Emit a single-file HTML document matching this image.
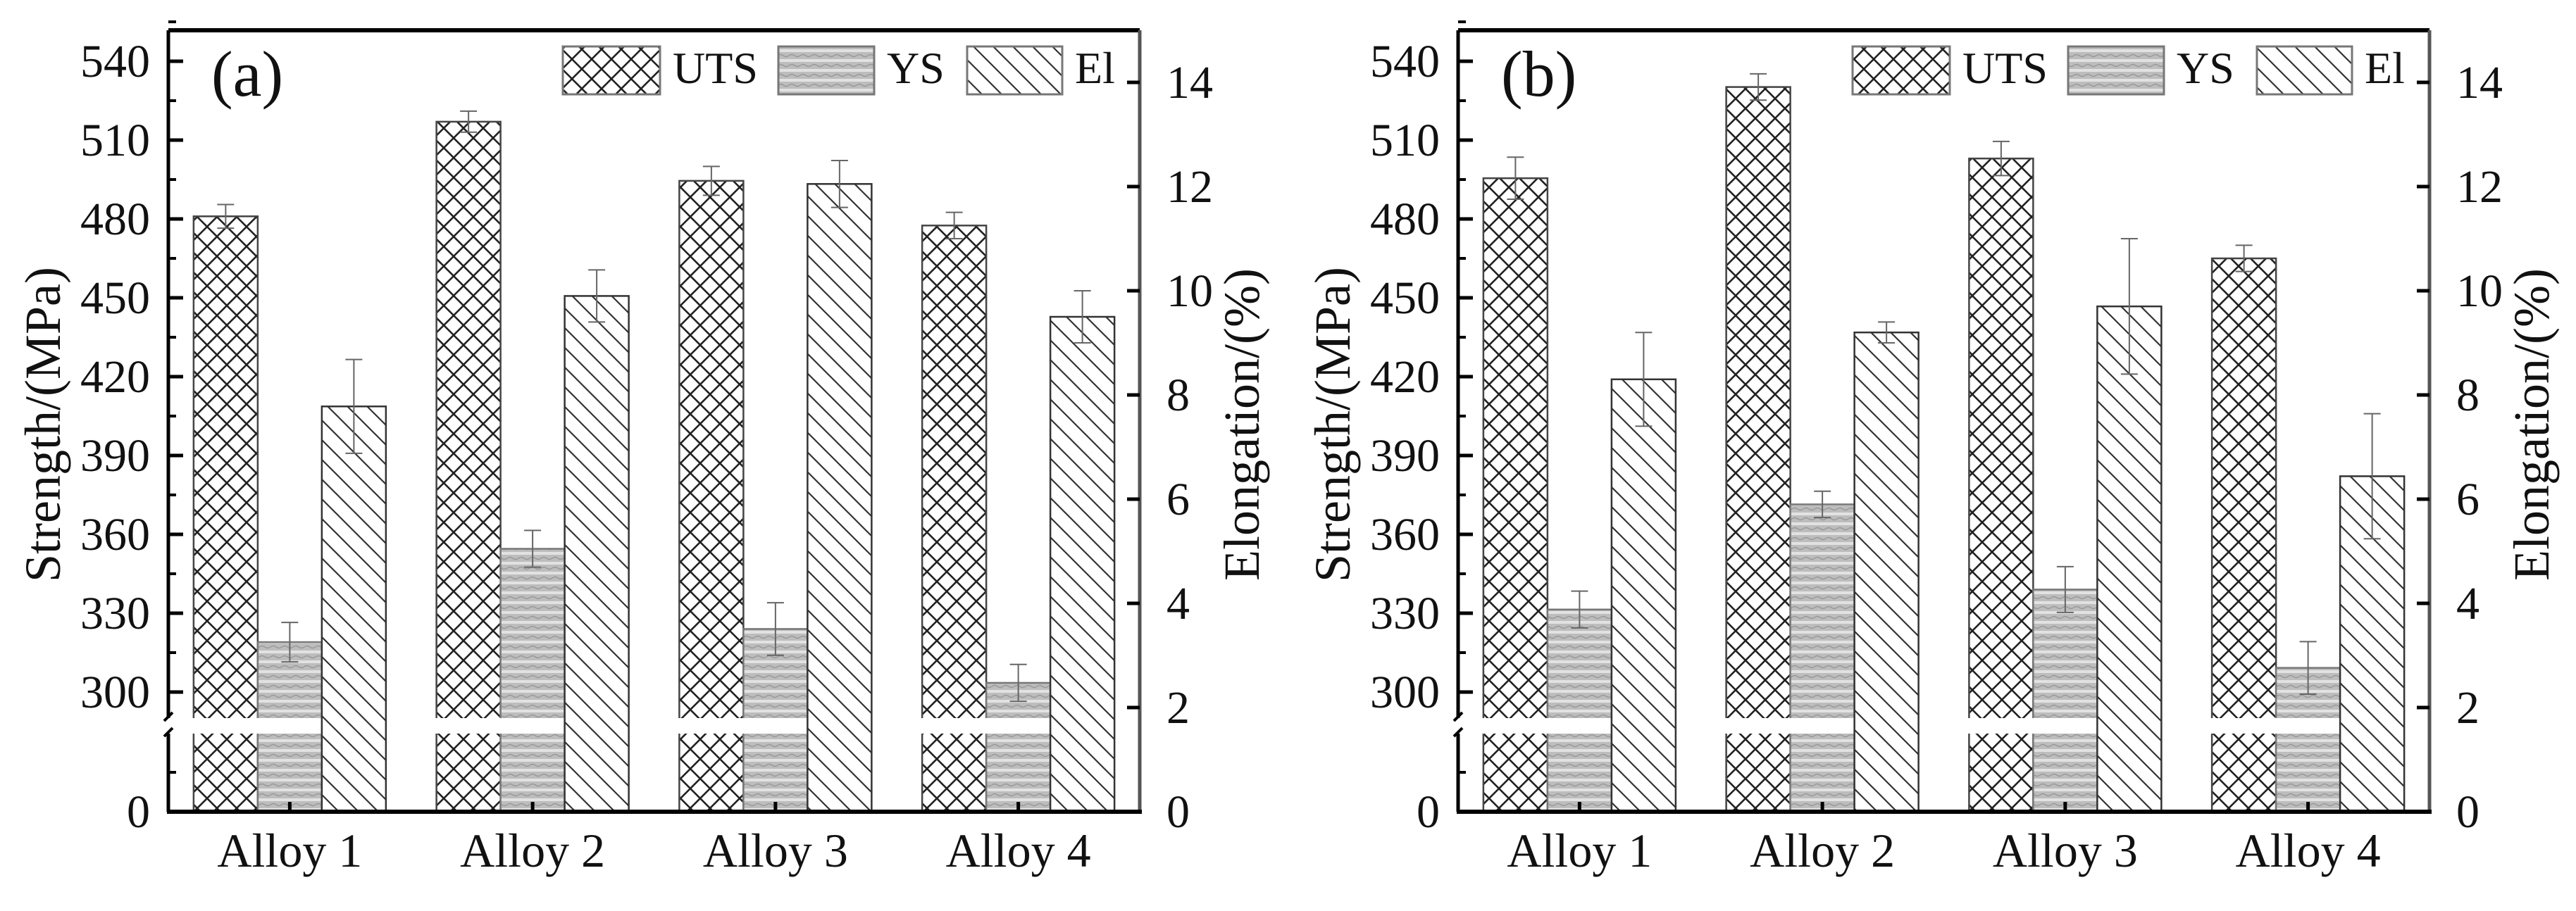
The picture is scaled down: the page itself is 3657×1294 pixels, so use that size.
<!DOCTYPE html>
<html><head><meta charset="utf-8"><style>
html,body{margin:0;padding:0;background:#fff;}
svg text{font-family:"Liberation Serif",serif;fill:#111;}
</style></head><body>
<svg id="chart" xmlns="http://www.w3.org/2000/svg" width="3657" height="1289" viewBox="0 0 3657 1289">
<defs>
<pattern id="pUTS" patternUnits="userSpaceOnUse" width="28" height="28">
<rect width="28" height="28" fill="#fff"/>
<path d="M-2,-2 L30,30 M30,-2 L-2,30" stroke="#222" stroke-width="2.6"/>
</pattern>
<pattern id="pYS" patternUnits="userSpaceOnUse" width="16" height="14">
<rect width="16" height="14" fill="#bdbdbd"/>
<rect y="0" width="16" height="4" fill="#e2e2e2"/>
<path d="M0,9 Q4,6 8,9 T16,9" stroke="#999" stroke-width="1.5" fill="none"/>
</pattern>
<pattern id="pEL" patternUnits="userSpaceOnUse" width="28" height="28">
<rect width="28" height="28" fill="#fff"/>
<path d="M-2,-2 L30,30 M-16,12 L2,30 M12,-16 L44,16" stroke="#333" stroke-width="2.2"/>
</pattern>
</defs>
<g id="panels"></g>
</svg>
<script>
const categories = ["Alloy 1", "Alloy 2", "Alloy 3", "Alloy 4"];
const seriesNames = ["UTS", "YS", "El"];
const strengthTicks = [300, 330, 360, 390, 420, 450, 480, 510, 540];
const elongTicks = [0, 2, 4, 6, 8, 10, 12, 14];
const utsA = [481, 517, 494.5, 477.5];
const utsErrA = [4.5, 4, 5.5, 5];
const ysA = [319, 354.5, 324, 303.5];
const ysErrA = [7.5, 7, 10, 7];
const elA = [7.78, 9.9, 12.05, 9.5];
const elErrA = [0.9, 0.5, 0.45, 0.5];
const utsB = [495.5, 530.2, 503, 465];
const utsErrB = [8, 5, 6.5, 5];
const ysB = [331.4, 371.4, 339, 309.2];
const ysErrB = [7, 5, 8.7, 10];
const elB = [8.3, 9.2, 9.7, 6.44];
const elErrB = [0.9, 0.2, 1.3, 1.2];

const NS = "http://www.w3.org/2000/svg";
const root = document.getElementById("panels");
function mk(tag, attrs, parent) {
  const e = document.createElementNS(NS, tag);
  for (const k in attrs) e.setAttribute(k, attrs[k]);
  (parent || root).appendChild(e);
  return e;
}
const TOP = 43, BOT = 1153;
function yS(v) { return 983 - (v - 300) * 112 / 30; }
function yE(v) { return BOT - v * 74; }

function drawPanel(ox, label, uts, utsErr, ys, ysErr, el, elErr, key) {
  const L = ox + 239, R = ox + 1618;
  const g = mk("g", {});
  
  
  const band = (R - L) / categories.length;
  const bw = 91;
  const values = [uts, ys, el];
  const errs = [utsErr, ysErr, elErr];
  const fills = ["url(#pUTS)", "url(#pYS)", "url(#pEL)"];
  const strokes = ["#444", "#777", "#333"];
  categories.forEach((c, i) => {
    const cx = L + band * (i + 0.5);
    for (let s = 0; s < 3; s++) {
      const x = cx - 1.5 * bw + s * bw;
      const v = values[s][i];
      const y = s < 2 ? yS(v) : yE(v);
      const bar = mk("rect", {x: x, y: y, width: bw, height: BOT - y, fill: fills[s], stroke: strokes[s], "stroke-width": 2.5}, g);
      
      
      if (s < 2) {
        const gap = mk("rect", {x: x - 2, y: 1020, width: bw + 4, height: 22, fill: "#fff"}, g);
        
        
      }
      const e = errs[s][i];
      const y1 = s < 2 ? yS(v + e) : yE(v + e);
      const y2 = s < 2 ? yS(v - e) : yE(v - e);
      const eb = mk("path", {d: `M${x+bw/2},${y1} V${y2} M${x+bw/2-12},${y1} h24 M${x+bw/2-12},${y2} h24`, stroke: "#666", "stroke-width": 2, fill: "none"}, g);
      
      
    }
    const tk = mk("line", {x1: cx, y1: BOT, x2: cx, y2: BOT - 14, stroke: "#000", "stroke-width": 5}, g);
    
    
    const t = mk("text", {x: cx, y: 1231, "font-size": 68, "text-anchor": "middle"}, g);
    t.textContent = c;
    
    
  });
  // frame
  const fr = mk("path", {d: `M${L},${TOP} H${R}`, stroke: "#000", "stroke-width": 6, fill: "none"}, g);
  
  
  const la = mk("path", {d: `M${L},${TOP} V1020 M${L},1042 V${BOT}`, stroke: "#000", "stroke-width": 5, fill: "none"}, g);
  
  
  const br = mk("path", {d: `M${L-6},1024 l12,-12 M${L-6},1046 l12,-12`, stroke: "#000", "stroke-width": 4, fill: "none"}, g);
  
  
  const ra = mk("path", {d: `M${R},${TOP} V${BOT}`, stroke: "#555", "stroke-width": 5, fill: "none"}, g);
  
  
  const ba = mk("path", {d: `M${L-2},${BOT} H${R+3}`, stroke: "#000", "stroke-width": 6, fill: "none"}, g);
  
  
  // left ticks
  strengthTicks.forEach(v => {
    const y = yS(v);
    const tk = mk("line", {x1: L, y1: y, x2: L + 21, y2: y, stroke: "#000", "stroke-width": 5}, g);
    
    
    const mn = mk("line", {x1: L, y1: yS(v + 15), x2: L + 11, y2: yS(v + 15), stroke: "#000", "stroke-width": 4}, g);
    
    
    const t = mk("text", {x: L - 26, y: y + 22, "font-size": 66, "text-anchor": "end"}, g);
    t.textContent = v;
    
    
  });
  const mn0 = mk("line", {x1: L, y1: 1097, x2: L + 11, y2: 1097, stroke: "#000", "stroke-width": 4}, g);
  
  
  const z = mk("text", {x: L - 26, y: BOT + 22, "font-size": 66, "text-anchor": "end"}, g);
  z.textContent = "0";
  
  
  // right ticks
  elongTicks.forEach(v => {
    const y = yE(v);
    const tk = mk("line", {x1: R, y1: y, x2: R - 18, y2: y, stroke: "#000", "stroke-width": 5}, g);
    
    
    const t = mk("text", {x: R + 38, y: y + 22, "font-size": 66}, g);
    t.textContent = v;
    
    
  });
  // titles
  const tl = mk("text", {x: ox + 61, y: 603, "font-size": 72, "text-anchor": "middle", transform: `rotate(-90 ${ox + 61} 603)`, dy: 24}, g);
  tl.textContent = "Strength/(MPa)";
  
  
  const tr = mk("text", {x: ox + 1763, y: 603, "font-size": 72, "text-anchor": "middle", transform: `rotate(-90 ${ox + 1763} 603)`, dy: 24}, g);
  tr.textContent = "Elongation/(%)";
  
  
  const pl = mk("text", {x: ox + 300, y: 136, "font-size": 92}, g);
  pl.textContent = label;
  
  
  // legend
  const lx = [799, 1105, 1373];
  const lw = [138, 136, 135];
  for (let s = 0; s < 3; s++) {
    const bx = mk("rect", {x: ox + lx[s], y: 66, width: lw[s], height: 68, fill: fills[s], stroke: "#777", "stroke-width": 3}, g);
    
    
    const t = mk("text", {x: ox + lx[s] + lw[s] + 18, y: 118, "font-size": 64}, g);
    t.textContent = seriesNames[s];
    
    
  }
}
drawPanel(0, "(a)", utsA, utsErrA, ysA, ysErrA, elA, elErrA, "a");
drawPanel(1831, "(b)", utsB, utsErrB, ysB, ysErrB, elB, elErrB, "b");
</script>
</body></html>
